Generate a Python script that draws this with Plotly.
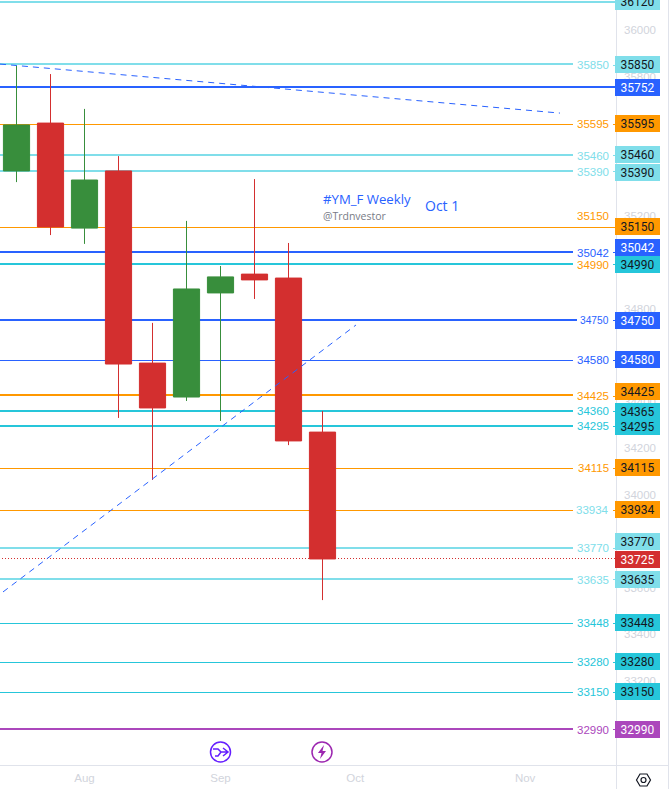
import plotly.graph_objects as go

# ---- data ----
week_index = [0, 1, 2, 3, 4, 5, 6, 7, 8, 9]
opens  = [35394, 35600, 35148, 35394, 34567, 34421, 34869, 34950, 34933, 34270]
highs  = [35846, 35811, 35661, 35458, 34740, 35179, 34985, 35359, 35084, 34361]
lows   = [35346, 35118, 35080, 34331, 34064, 34404, 34318, 34843, 34214, 33547]
closes = [35592, 35153, 35355, 34563, 34374, 34886, 34938, 34925, 34232, 33724]

tick_index = [2, 6, 9.96, 14.96]
tick_labels = ["Aug", "Sep", "Oct", "Nov"]

trend_down_x = [-0.485, 15.985]
trend_down_y = [35854, 35643]
trend_up_x = [-0.397, 9.985]
trend_up_y = [33582, 34731]

level_values = [36120, 35850, 35752, 35595, 35460, 35390, 35150, 35042, 34990, 34750, 34580,
                34425, 34360, 34295, 34115, 33934, 33770, 33725, 33635, 33448, 33280, 33150, 32990]
tag_labels = ["36120", "35850", "35752", "35595", "35460", "35390", "35150", "35042", "34990", "34750", "34580",
              "34425", "34365", "34295", "34115", "33934", "33770", "33725", "33635", "33448", "33280", "33150", "32990"]
line_labels = ["", "35850", "", "35595", "35460", "35390", "35150", "35042", "34990", "34750", "34580",
               "34425", "34360", "34295", "34115", "33934", "33770", "", "33635", "33448", "33280", "33150", "32990"]

# ---- styles ----
W, H = 669, 789
PL_R, PL_B = 616, 765
SCALE = 664.5 / 2860
Y_TOP = 35850 + 65 / SCALE
Y_BOT = 32990 - (PL_B - 729.5) / SCALE
BLUE, ORANGE, LIGHT, TEAL, PURPLE, RED, GREEN = "#2962ff", "#ff9800", "#80deea", "#26c6da", "#ab47bc", "#d32f2f", "#388e3c"
line_colors = [LIGHT, LIGHT, BLUE, ORANGE, LIGHT, LIGHT, ORANGE, BLUE, TEAL, BLUE, BLUE,
               ORANGE, TEAL, TEAL, ORANGE, ORANGE, LIGHT, RED, LIGHT, TEAL, TEAL, TEAL, PURPLE]
label_colors = [LIGHT, LIGHT, BLUE, ORANGE, LIGHT, LIGHT, ORANGE, BLUE, ORANGE, BLUE, BLUE,
                ORANGE, TEAL, TEAL, ORANGE, LIGHT, LIGHT, RED, LIGHT, TEAL, TEAL, TEAL, PURPLE]
line_widths = [2, 2, 2, 1, 2, 2, 1, 2, 2, 2, 1, 2, 2, 2, 1, 1, 2, 1, 2, 1, 1, 1, 2]
full_lines = {36120, 35752, 35150, 33725}
label_dy = {35150: -12}
tag_dy = {36120: 0, 35150: -0.3, 35042: -4.5, 34990: 0.5, 34425: -3.7, 33770: -6.3, 33725: 0.7, 33635: 0.3,
          35460: -0.4, 35390: 1.3, 34360: 0.7, 34295: 0.3}
white_text = {BLUE, RED, PURPLE}


def px(x):
    return x / PL_R


def py(y):
    return 1 - y / PL_B


fig = go.Figure()
for xs, ys in [(trend_down_x, trend_down_y), (trend_up_x, trend_up_y)]:
    fig.add_trace(go.Scatter(x=xs, y=ys, mode="lines", hoverinfo="skip", showlegend=False,
                             line=dict(color=BLUE, width=1, dash="6px,5px")))
fig.add_trace(go.Candlestick(
    x=week_index, open=opens, high=highs, low=lows, close=closes, showlegend=False,
    whiskerwidth=0,
    increasing=dict(line=dict(color=GREEN, width=1), fillcolor=GREEN),
    decreasing=dict(line=dict(color=RED, width=1), fillcolor=RED),
))

shapes, annos = [], []
for v, lab, col, lcol, w in zip(level_values, line_labels, line_colors, label_colors, line_widths):
    if v == 33725:
        shapes.append(dict(type="line", xref="paper", yref="y", x0=px(2), x1=1, y0=v, y1=v,
                           layer="below", line=dict(color=col, width=1, dash="1px,2px")))
        continue
    right = 616 if v in full_lines else (577 if v == 34750 else 573)
    shapes.append(dict(type="line", xref="paper", yref="y", x0=0, x1=px(right), y0=v, y1=v,
                       layer="below", line=dict(color=col, width=w)))
    if v not in full_lines:
        shapes.append(dict(type="line", xref="paper", yref="y", x0=px(613), x1=1, y0=v, y1=v,
                           layer="below", line=dict(color=col, width=1)))
    if lab:
        annos.append(dict(x=px(611), y=v, xref="paper", yref="y", text=lab, showarrow=False,
                          xanchor="right", yanchor="middle", yshift=-label_dy.get(v, 0),
                          font=dict(family="Liberation Sans", size=10.2 if v == 34750 else 11.5, color=lcol)))

for v, lab, col in zip(level_values, tag_labels, line_colors):
    tcol = "#ffffff" if col in white_text else "#131722"
    annos.append(dict(x=1, y=v, xref="paper", yref="y", text=lab, showarrow=False, xanchor="left",
                      yanchor="middle", xshift=-1, yshift=0.4 - tag_dy.get(v, 0), width=45, height=17, align="center",
                      borderpad=0, borderwidth=0, bgcolor=col, valign="middle",
                      font=dict(family="Roboto", size=12, color=tcol)))

annos += [
    dict(x=px(321), y=py(199), xref="paper", yref="paper", text="#YM_F Weekly", showarrow=False, xanchor="left",
         yanchor="middle", font=dict(family="Open Sans", size=13.2, color=BLUE)),
    dict(x=px(321), y=py(216), xref="paper", yref="paper", text="@Trdnvestor", showarrow=False, xanchor="left",
         yanchor="middle", font=dict(family="Open Sans", size=10.5, color="#787b86")),
    dict(x=px(423), y=py(206), xref="paper", yref="paper", text="Oct 1", showarrow=False, xanchor="left",
         yanchor="middle", font=dict(family="Open Sans", size=14, color=BLUE)),
]


def pth(points, close=False):
    s = "M " + " L ".join(f"{px(a):.5f},{py(b):.5f}" for a, b in points)
    return s + (" Z" if close else "")


ICON1, ICON2 = "#651fff", "#9c27b0"
for cx, col in [(220.5, ICON1), (322, ICON2)]:
    shapes.append(dict(type="circle", xref="paper", yref="paper", x0=px(cx - 10), x1=px(cx + 10),
                       y0=py(752 + 10), y1=py(752 - 10), line=dict(color=col, width=1.5), fillcolor="#ffffff"))
shapes.append(dict(type="path", xref="paper", yref="paper", line=dict(color=ICON1, width=1.5),
                   path=pth([(213, 749), (218, 749), (221, 752), (228, 752)]) + " " +
                        pth([(215, 756), (218, 756), (221, 752)]) + " " +
                        pth([(223, 748), (228, 752), (223, 756)])))
shapes.append(dict(type="path", xref="paper", yref="paper", line=dict(width=0), fillcolor=ICON2,
                   path=pth([(324, 745), (318, 753), (321.5, 753), (320, 759), (326, 751), (322.5, 751)], True)))

# gear in the corner of the axes
shapes.append(dict(type="path", xref="paper", yref="paper", line=dict(color="#131722", width=1.2),
                   path=pth([(636.5, 780), (640, 774), (647, 774), (650.5, 780), (647, 786), (640, 786)], True)))
shapes.append(dict(type="circle", xref="paper", yref="paper", x0=px(641), x1=px(646), y0=py(782.5), y1=py(777.5),
                   line=dict(color="#131722", width=1.2)))
# frame lines
shapes.append(dict(type="line", xref="paper", yref="paper", x0=px(668.5), x1=px(668.5), y0=py(0), y1=py(789),
                   line=dict(color="#e0e3eb", width=1)))
shapes.append(dict(type="line", xref="paper", yref="paper", x0=1, x1=1, y0=py(0), y1=py(789),
                   line=dict(color="#e0e3eb", width=1)))
shapes.append(dict(type="line", xref="paper", yref="paper", x0=0, x1=px(668), y0=0, y1=0,
                   line=dict(color="#e0e3eb", width=1)))

fig.update_layout(
    width=W, height=H, margin=dict(l=0, r=W - PL_R, t=0, b=H - PL_B),
    paper_bgcolor="#ffffff", plot_bgcolor="#ffffff", showlegend=False, boxgap=0.23, boxgroupgap=0,
    shapes=shapes, annotations=annos,
    xaxis=dict(range=[-16.5 / 34, (616 - 16.5) / 34], rangeslider=dict(visible=False), showgrid=False,
               zeroline=False, tickmode="array", tickvals=tick_index, ticktext=tick_labels, ticks="",
               ticklabelstandoff=4,
               tickfont=dict(family="Liberation Sans", size=11.5, color="#d1d4dc")),
    yaxis=dict(range=[Y_BOT, Y_TOP], side="right", showgrid=False, zeroline=False, dtick=200, tick0=0, ticks="",
               ticklabelstandoff=7,
               tickformat="d", tickfont=dict(family="Liberation Sans", size=11.5, color="#d1d4dc")),
)

crisp_js = """
document.body.style.margin='0';
document.querySelectorAll('.shapelayer path').forEach(function(p){
  if(/^M[\\d.,-]+L[\\d.,-]+$/.test(p.getAttribute('d'))){
    p.style.shapeRendering='crispEdges';
    if(parseFloat(p.style.strokeWidth)===2){p.setAttribute('transform','translate(0,-0.6)');}
  }
});
"""
fig.write_html("out.html", config=dict(displayModeBar=False), post_script=crisp_js)
